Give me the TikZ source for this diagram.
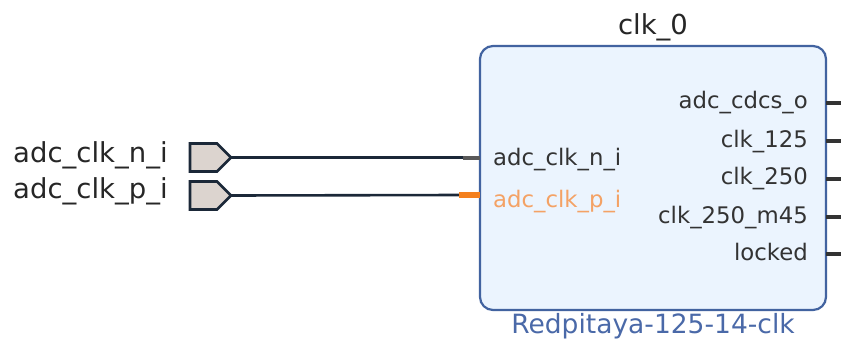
\documentclass[tikz,border=0pt]{standalone}
\usepackage{fontspec}
\setmainfont{DejaVu Sans}
\definecolor{blkfill}{HTML}{EBF4FE}
\definecolor{blkedge}{HTML}{4263A0}
\definecolor{wirec}{HTML}{1B2838}
\definecolor{portfill}{HTML}{DCD4CF}
\definecolor{pinorange}{HTML}{F4801E}
\definecolor{lblorange}{HTML}{F4A265}
\definecolor{lblgrey}{HTML}{333333}
\definecolor{ipblue}{HTML}{4A69A8}
\begin{document}
\begin{tikzpicture}[x=1pt,y=-1pt,
  extlbl/.style={font=\fontsize{27.5}{30}\selectfont, text=black!85, inner sep=0pt, anchor=base west},
  inlbl/.style={font=\fontsize{22.8}{26}\selectfont, text=lblgrey, inner sep=0pt},
  portshape/.style={draw=wirec, line width=2.6pt, fill=portfill, line join=miter},
  wire/.style={draw=wirec, line width=2.6pt},
  pinstub/.style={line width=3.2pt, draw=black!80}]
\useasboundingbox (0,0) rectangle (841,338);
% block
\node[draw=blkedge, fill=blkfill, line width=2.2pt, rounded corners=13pt, minimum width=346pt, minimum height=264pt, inner sep=0pt] (blk) at (653,178) {};
\node[font=\fontsize{27.5}{30}\selectfont, text=black!85, inner sep=0pt, anchor=base] (title) at (653,34) {clk\_0};
\node[font=\fontsize{26.5}{30}\selectfont, text=ipblue, inner sep=0pt, anchor=base] (ipname) at (653,333) {Redpitaya-125-14-clk};
% external ports
\node[extlbl] (ln) at (13,162) {adc\_clk\_n\_i};
\node[extlbl] (lp) at (13,198) {adc\_clk\_p\_i};
\draw[portshape] (190,143.5) -- (217,143.5) -- (231,157.5) -- (217,171.5) -- (190,171.5) -- cycle;
\draw[portshape] (190,181.5) -- (217,181.5) -- (231,195.5) -- (217,209.5) -- (190,209.5) -- cycle;
\coordinate (pn) at (231,157.5);
\coordinate (pp) at (231,195.5);
% pin stubs on the left
\coordinate (sn) at (463,157.5);
\coordinate (en) at (480,157.5);
\coordinate (sp) at (459,195);
\coordinate (ep) at (480,195);
\draw[wire] (pn) -- (sn);
\draw[wire] (pp) -- (sp);
\draw[line width=4pt, draw=black!65] (sn) -- (en);
\draw[line width=6pt, draw=pinorange] (sp) -- (ep);
% inner labels left
\node[inlbl, anchor=base west] (iln) at (493,165) {adc\_clk\_n\_i};
\node[inlbl, anchor=base west, text=lblorange] (ilp) at (493,207) {adc\_clk\_p\_i};
% right pins and labels
\foreach \nm/\txt/\py/\by in {o1/adc\_cdcs\_o/103/108, o2/clk\_125/141/147, o3/clk\_250/179/184, o4/clk\_250\_m45/217/223, o5/locked/254/260}{
  \node[inlbl, anchor=base east] (t\nm) at (808,\by) {\txt};
  \coordinate (a\nm) at (826,\py);
  \coordinate (b\nm) at (841,\py);
  \draw[pinstub] (a\nm) -- (b\nm);
}
\end{tikzpicture}
\end{document}
